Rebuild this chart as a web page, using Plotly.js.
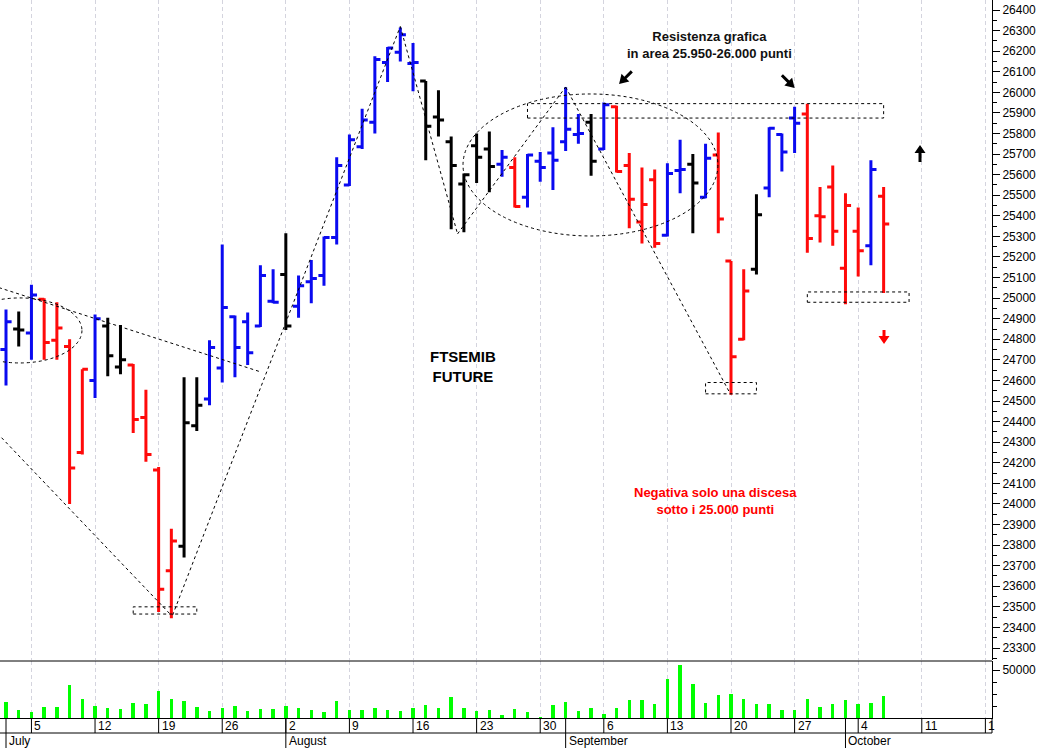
<!DOCTYPE html>
<html>
<head>
<meta charset="utf-8">
<script src="https://cdn.plot.ly/plotly-3.0.1.min.js"></script>
<style>
html,body{margin:0;padding:0;background:#fff;}
#chart{width:1040px;height:748px;}
</style>
</head>
<body>
<div id="chart"></div>
<script>
// ---------------- DATA ----------------
const dates = [
  '2021-07-01','2021-07-02','2021-07-05','2021-07-06','2021-07-07','2021-07-08','2021-07-09',
  '2021-07-12','2021-07-13','2021-07-14','2021-07-15','2021-07-16',
  '2021-07-19','2021-07-20','2021-07-21','2021-07-22','2021-07-23',
  '2021-07-26','2021-07-27','2021-07-28','2021-07-29','2021-07-30',
  '2021-08-02','2021-08-03','2021-08-04','2021-08-05','2021-08-06',
  '2021-08-09','2021-08-10','2021-08-11','2021-08-12','2021-08-13',
  '2021-08-16','2021-08-17','2021-08-18','2021-08-19','2021-08-20',
  '2021-08-23','2021-08-24','2021-08-25','2021-08-26','2021-08-27',
  '2021-08-30','2021-08-31','2021-09-01','2021-09-02','2021-09-03',
  '2021-09-06','2021-09-07','2021-09-08','2021-09-09','2021-09-10',
  '2021-09-13','2021-09-14','2021-09-15','2021-09-16','2021-09-17',
  '2021-09-20','2021-09-21','2021-09-22','2021-09-23','2021-09-24',
  '2021-09-27','2021-09-28','2021-09-29','2021-09-30','2021-10-01',
  '2021-10-04','2021-10-05','2021-10-06'
];
const openPx = [
  24750,24850,24830,24995,24795,24765,24250,24600,24865,24665,24675,24420,24165,23675,23795,24380,24510,
  24660,24910,24885,24865,24985,25115,24960,25080,25110,25295,25550,25735,25855,26145,26195,26140,26055,
  25880,25760,25555,25740,25725,25650,25635,25490,25665,25705,25760,25795,25855,25725,25930,25645,25370,
  25575,25305,25620,25650,25490,25695,25180,24800,25140,25535,25795,25875,25895,25400,25540,25145,25325,
  25255,25495
];
const highPx = [
  24945,24935,25065,25000,24980,24800,24655,24920,24905,24870,24680,24555,24180,23880,24615,24615,24795,
  25260,24915,24930,25160,25140,25315,25110,25185,25300,25685,25795,25920,26175,26220,26315,26240,26055,
  26010,25785,25605,25800,25810,25720,25685,25700,25710,25830,26025,25895,25895,25950,25935,25705,25635,
  25625,25655,25770,25700,25750,25805,25180,25140,25505,25830,25800,25930,25945,25540,25645,25510,25440,
  25670,25540
];
const lowPx = [
  24575,24765,24700,24700,24700,24000,24240,24515,24620,24630,24345,24205,23475,23445,23740,24355,24480,
  24590,24615,24675,24860,24975,24845,24905,24975,25060,25260,25545,25725,25800,26050,26150,26005,25670,
  25785,25335,25320,25560,25515,25590,25440,25440,25565,25525,25715,25750,25595,25720,25610,25340,25265,
  25245,25300,25510,25315,25485,25315,24530,24795,25115,25490,25615,25705,25220,25270,25255,24970,25105,
  25160,25025
];
const closePx = [
  24885,24845,25015,24785,24855,24175,24655,24900,24720,24700,24410,24240,23585,23820,24395,24480,24760,
  24955,24760,24735,25110,24980,24865,25060,25095,25295,25645,25770,25865,26160,26215,26280,26145,25835,
  25865,25645,25600,25685,25640,25685,25445,25695,25635,25670,25820,25800,25665,25940,25615,25480,25455,
  25265,25605,25625,25560,25680,25385,24715,25035,25405,25825,25710,25850,25290,25395,25325,25450,25230,
  25625,25360
];
// bar colouring state of the original chart: B = blue, R = red, K = black
const barState = [
  'B','K','B','R','R','R','R','B','K','K','R','R','R','R','K','K','B',
  'B','B','B','B','B','K','B','B','B','B','B','B','B','B','B','B','K',
  'K','K','K','K','K','B','R','B','B','B','B','B','K','B','R','R','R',
  'R','B','B','K','B','R','R','R','K','B','B','B','R','R','R','R','R',
  'B','R'
];
const volume = [
  16700,8700,6250,11500,11500,34000,20100,12500,10800,9000,15600,14900,28100,19500,17700,11500,7300,
  10800,12200,7000,9000,9700,12500,10800,8700,6250,17700,8700,8000,10800,8000,7300,10800,13200,
  10800,21900,10800,7300,8000,3500,9000,6250,1000,13900,16700,7000,10800,4500,10800,18400,19100,
  14600,41000,55500,35700,15900,23600,25300,19500,14600,14600,8700,8700,19500,11500,14900,18400,14600,
  15900,22600
];
// weekly tick labels (trading-day slot of each Monday) and month labels
const weekIndex  = [2,7,12,17,22,27,32,37,42,47,52,57,62,67,72,77];
const weekLabels = ['5','12','19','26','2','9','16','23','30','6','13','20','27','4','11','1'];
const monthIndex  = [0,22,44,66];
const monthLabels = ['July','August','September','October'];

// ---------------- CHART ----------------
const slot = dates.map((d, i) => i);
const stateColor = {B: '#0a0af0', R: '#ff0a0a', K: '#000000'};

const traces = ['K', 'R', 'B'].map(s => {
  const idx = slot.filter(i => barState[i] === s);
  return {
    type: 'ohlc',
    x: idx,
    open: idx.map(i => openPx[i]),
    high: idx.map(i => highPx[i]),
    low: idx.map(i => lowPx[i]),
    close: idx.map(i => closePx[i]),
    xaxis: 'x', yaxis: 'y2',
    line: {width: 3},
    increasing: {line: {color: stateColor[s], width: 3}},
    decreasing: {line: {color: stateColor[s], width: 3}},
    tickwidth: 0.44,
    hoverinfo: 'skip',
    showlegend: false
  };
});

traces.push({
  type: 'bar',
  x: slot,
  y: volume,
  xaxis: 'x', yaxis: 'y',
  marker: {color: '#00ff00', line: {width: 0}},
  width: 0.27,
  hoverinfo: 'skip',
  showlegend: false
});

const H = 718; // plot-area height in px (paper units helper)
const dash = {color: '#000', width: 1, dash: '3px,3px'};
function seg(x0, y0, x1, y1) { return {type: 'line', xref: 'x', yref: 'y2', x0, y0, x1, y1, line: dash}; }
function box(x0, x1, y0, y1) { return {type: 'rect', xref: 'x', yref: 'y2', x0, x1, y0, y1, line: dash}; }
function oval(x0, x1, y0, y1) { return {type: 'circle', xref: 'x', yref: 'y2', x0, x1, y0, y1, line: dash}; }

// block arrow drawn in pixel units around an anchor (tip at anchor); angle: 0 = up, 135 = down-left
function arrow(xa, ya, angle, len, headLen, headHalf, shaftHalf, color) {
  const t = angle * Math.PI / 180, c = Math.cos(t), s = Math.sin(t);
  const pts = [[0, 0], [headHalf, -headLen], [shaftHalf, -headLen], [shaftHalf, -len],
               [-shaftHalf, -len], [-shaftHalf, -headLen], [-headHalf, -headLen]];
  const p = pts.map(([x, y]) => [x * c - y * s, x * s + y * c]);
  const path = 'M' + p.map(q => q[0].toFixed(2) + ',' + q[1].toFixed(2)).join('L') + 'Z';
  return {type: 'path', xref: 'x', yref: 'y2', xsizemode: 'pixel', ysizemode: 'pixel',
          xanchor: xa, yanchor: ya, path, fillcolor: color, line: {width: 0}};
}

const shapes = [
  seg(-1, 25060, 20.1, 24640),
  oval(-3.8, 5.97, 24685, 25001),
  seg(-1, 24364, 12.9, 23465),
  box(10, 15, 23465, 23500),
  seg(13.1, 23460, 31.0, 26320),
  seg(31.0, 26320, 35.5, 25312),
  seg(35.5, 25312, 44.0, 26026),
  seg(44.0, 26026, 56.9, 24540),
  oval(35.93, 55.97, 25302, 25992),
  box(41, 69, 25875, 25945),
  box(55, 59, 24535, 24590),
  box(63, 71, 24980, 25030),
  arrow(48.2, 26040, 135, 18, 9, 5.5, 1.5, '#000'),
  arrow(62.0, 26021, -135, 18, 9, 5.5, 1.5, '#000'),
  arrow(71.86, 25744, 0, 17, 8, 5.5, 1.5, '#000'),
  arrow(69.03, 24777, 180, 14, 8, 5.5, 1.5, '#ff0000'),
  // volume panel top border
  {type: 'line', xref: 'paper', yref: 'paper', x0: 0, x1: 1, y0: 57 / H, y1: 57 / H, line: {color: '#000', width: 1}},
  // separator between day row and month row
  {type: 'line', xref: 'paper', yref: 'paper', x0: 0, x1: 1, y0: -15 / H, y1: -15 / H, line: {color: '#000', width: 1}},
  {type: 'line', xref: 'paper', yref: 'paper', x0: 1, x1: 1, y0: 0, y1: -15 / H, line: {color: '#000', width: 1}}
];
weekIndex.forEach(i => shapes.push({type: 'line', xref: 'x', yref: 'paper', x0: i, x1: i, y0: 0, y1: -15 / H, line: {color: '#000', width: 1}}));
monthIndex.forEach(i => shapes.push({type: 'line', xref: 'x', yref: 'paper', x0: i, x1: i, y0: 0, y1: -30 / H, line: {color: '#000', width: 1}}));

const axFont = {family: 'Liberation Sans, Arial, sans-serif', size: 12, color: '#000'};
const annotations = [];
weekIndex.forEach((i, k) => annotations.push({
  x: i, y: -7.5 / H, xref: 'x', yref: 'paper', text: weekLabels[k], showarrow: false,
  xanchor: 'left', yanchor: 'middle', xshift: 1, font: axFont
}));
monthIndex.forEach((i, k) => annotations.push({
  x: i, y: -22.5 / H, xref: 'x', yref: 'paper', text: monthLabels[k], showarrow: false,
  xanchor: 'left', yanchor: 'middle', xshift: 1, font: axFont
}));
const boldFont = (size, color) => ({family: 'Liberation Sans, Arial, sans-serif', size, color, weight: 'bold'});
annotations.push(
  {x: 55.27, y: 26230, xref: 'x', yref: 'y2', showarrow: false, align: 'center',
   text: '<b>Resistenza grafica<br>in area 25.950-26.000 punti</b>', font: boldFont(13, '#111')},
  {x: 35.93, y: 24670, xref: 'x', yref: 'y2', showarrow: false, align: 'center',
   text: '<b>FTSEMIB<br>FUTURE</b>', font: boldFont(15, '#000')},
  {x: 55.8, y: 24014, xref: 'x', yref: 'y2', showarrow: false, align: 'center',
   text: '<b>Negativa solo una discesa<br>sotto i 25.000 punti</b>', font: boldFont(13, '#ff0000')}
);

const layout = {
  width: 1040, height: 748,
  margin: {l: 0, r: 48, t: 0, b: 30, pad: 0},
  paper_bgcolor: '#ffffff', plot_bgcolor: '#ffffff',
  showlegend: false,
  font: axFont,
  xaxis: {
    range: [-0.472, 77.52], anchor: 'y',
    tickmode: 'array', tickvals: weekIndex, showticklabels: false, ticks: '',
    showgrid: true, gridcolor: '#d4d4de', griddash: '4px,3px', gridwidth: 1,
    zeroline: false, showline: true, linecolor: '#000', linewidth: 1,
    rangeslider: {visible: false}, fixedrange: true
  },
  yaxis: {
    domain: [0, 57 / H], range: [0, 59375], side: 'right', anchor: 'x',
    showline: true, linecolor: '#000', linewidth: 1,
    tickmode: 'array', tickvals: [50000], ticktext: ['50000'],
    ticks: 'outside', ticklen: 7, tickcolor: '#000',
    minor: {tickmode: 'array', tickvals: [12500, 25000, 37500], ticks: 'outside', ticklen: 4, tickcolor: '#000', showgrid: false},
    showgrid: false, zeroline: false, fixedrange: true, tickfont: axFont
  },
  yaxis2: {
    domain: [58 / H, 1], range: [23241.7, 26448.6], side: 'right', anchor: 'x',
    showline: true, linecolor: '#000', linewidth: 1,
    tick0: 0, dtick: 100, tickformat: 'd',
    ticks: 'outside', ticklen: 7, tickcolor: '#000',
    minor: {dtick: 50, tick0: 0, ticks: 'outside', ticklen: 4, tickcolor: '#000', showgrid: false},
    showgrid: false, zeroline: false, fixedrange: true, tickfont: axFont
  },
  shapes, annotations,
  bargap: 0
};

Plotly.newPlot('chart', traces, layout, {staticPlot: true, displayModeBar: false});
</script>
</body>
</html>
